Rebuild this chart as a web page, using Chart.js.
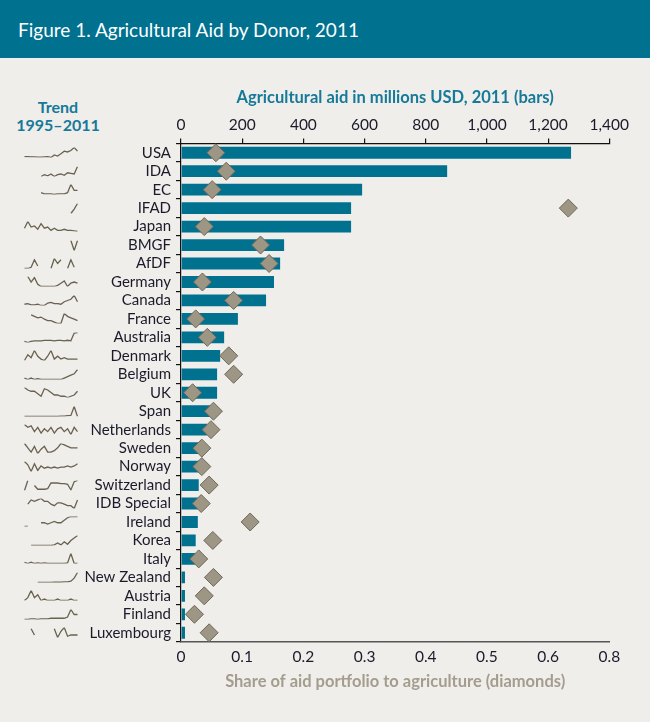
<!DOCTYPE html>
<html>
<head>
<meta charset="utf-8">
<script src="https://cdn.jsdelivr.net/npm/chart.js@4.4.1/dist/chart.umd.min.js"></script>
<style>
html,body{margin:0;padding:0;}
body{width:650px;height:722px;background:#EFEEEA;position:relative;overflow:hidden;font-family:Lato,"Noto Sans",sans-serif;}
#titlebar{position:absolute;left:0;top:0;width:650px;height:58px;background:#00718F;}
#title{position:absolute;left:18px;top:0;height:58px;line-height:60px;color:#fff;font-size:19px;white-space:nowrap;}
#trend{position:absolute;left:8px;width:100px;top:98px;text-align:center;color:#16799A;font-weight:bold;font-size:16px;line-height:18px;}
#main{position:absolute;left:0;top:0;}
.spark{position:absolute;}
</style>
</head>
<body>
<div id="titlebar"><div id="title">Figure 1. Agricultural Aid by Donor, 2011</div></div>
<div id="trend">Trend<br>1995–2011</div>
<canvas id="main" width="650" height="722"></canvas>
<div id="sparks"></div>
<script>
// ---------- DATA ----------
const donors = ['USA','IDA','EC','IFAD','Japan','BMGF','AfDF','Germany','Canada','France','Australia','Denmark','Belgium','UK','Span','Netherlands','Sweden','Norway','Switzerland','IDB Special','Ireland','Korea','Italy','New Zealand','Austria','Finland','Luxembourg'];
const aidMillions = [1275,870,592,556,556,337,324,304,278,186,141,128,118,118,95,85,60,60,58,55,55,48,46,13,13,13,13];
const shareToAgriculture = [0.057,0.074,0.051,0.633,0.038,0.130,0.144,0.035,0.086,0.024,0.043,0.078,0.086,0.019,0.053,0.049,0.034,0.034,0.046,0.033,0.113,0.052,0.029,0.053,0.038,0.022,0.046];
const aidTickLabels = ['0','200','400','600','800','1,000','1,200','1,400'];
const shareTickLabels = ['0','0.1','0.2','0.3','0.4','0.5','0.6','0.8'];
const trendYears = [1995,1996,1997,1998,1999,2000,2001,2002,2003,2004,2005,2006,2007,2008,2009,2010,2011];

const trendUSA = [1.7,1.7,1.6,1.6,1.3,1.3,1.6,1.7,1.0,3.3,2.3,4.3,6.7,6.0,7.3,10,6.7];
const trendIDA = [null,null,null,null,null,2,3.5,2.5,4,2,3.5,4,3,5,4.5,4,10];
const trendEC = [null,null,null,null,null,3,2,2,2,1.5,2,2,2,3,10,5,5];
const trendIFAD = [null,null,null,null,null,null,null,null,null,null,null,null,null,null,1,5,10];
const trendJapan = [4,10,5,6,3,8,4,5,2,4,2,2,3,2,2,1.5,1];
const trendBMGF = [null,null,null,null,null,null,null,null,null,null,null,null,null,null,10,1,10];
const trendAfDF = [1,1,2,8,3,null,null,null,1,9,5,8,null,1,8,2,null];
const trendGermany = [null,10,5,9,3,1,1,1,1,1,2,4,6,1,4,5,4];
const trendCanada = [3,3.5,2.5,2.5,3,2,2,4,4.5,3.5,3.5,3,5,6,7,10,5];
const trendFrance = [null,null,9,8,7,7.5,6,5,5,4,3,3,10,8,7,6,5];
const trendAustralia = [2,1,2,2.5,2.5,2.5,3,3,3,2.5,3,3,2.5,3,2.5,9.5,10];
const trendDenmark = [2,6,4,9,5,3,2,5,9,3,5,3,4,3,3,3,3];
const trendBelgium = [4,3,4,3,3.5,3,3,3,3,3,3,3,4,5,6,7,10];
const trendUK = [9,7,6,6,4,2,8,7,5,3,3,2,2,1,2,3,6];
const trendSpain = [1,1,1,1,1,1,1,1,1.2,1.2,1.2,1.4,1.4,1.8,2,10,1];
const trendNetherlands = [9,7,8,4,7,3,6,4,7,3,6,7,4,6,2,7,4];
const trendSweden = [9,6,3,7,2,5,7,3,3,4,6,9,8,7,6,6,6];
const trendNorway = [10,7,1,8,2,6,4,5,4,5,4,5,5,6,5,6,8];
const trendSwitzerland = [1,9,null,5,2,2,2,2.5,7,7,7,6.5,6.5,6,1.5,8,9];
const trendIDBSpecial = [null,4,7,6,7,8,6,6,4,3,5,5,4,3,3,1,7];
const trendIreland = [1,1,null,null,null,4,4,3,4,5,4,4,6,8,9,9,9];
const trendKorea = [null,null,1,1,1,1,1,1,1,1.5,3,1.5,4,2,5,7,9];
const trendItaly = [3,2,3,2,2.5,2,2.5,2,2,2,2,2,2,2.5,10,2,2];
const trendNewZealand = [null,null,null,null,1,1,1,1,1,1.2,1.2,1.2,1.5,1.5,2,4.5,9];
const trendAustria = [2,4,9,4,6,2,3,2,2,2,3,2,2,2,3,2,2];
const trendFinland = [2,2,2.5,2.5,2,2.5,2.5,2.5,3,3,3,3,3,4,10,6,6];
const trendLuxembourg = [null,null,8,3,null,null,null,null,null,8,1,6,9,2,3,3,3];

const trendSeries = [trendUSA,trendIDA,trendEC,trendIFAD,trendJapan,trendBMGF,trendAfDF,trendGermany,trendCanada,trendFrance,trendAustralia,trendDenmark,trendBelgium,trendUK,trendSpain,trendNetherlands,trendSweden,trendNorway,trendSwitzerland,trendIDBSpecial,trendIreland,trendKorea,trendItaly,trendNewZealand,trendAustria,trendFinland,trendLuxembourg];

// ---------- STYLE ----------
Chart.defaults.font.family = 'Lato, "Noto Sans", sans-serif';
Chart.defaults.color = '#1b1a2a';
const TEAL = '#00718F';
const AREA_TOP = 143.5, AREA_BOTTOM = 642;

const mainChart = new Chart(document.getElementById('main'), {
  type: 'bar',
  data: {
    labels: donors,
    datasets: [
      {
        type: 'line',
        label: 'Share of aid portfolio to agriculture',
        indexAxis: 'y',
        data: shareToAgriculture,
        xAxisID: 'x2',
        yAxisID: 'y',
        showLine: false,
        pointStyle: 'rectRot',
        pointRadius: 9,
        pointBackgroundColor: '#9E9684',
        pointBorderColor: '#6F6757',
        pointBorderWidth: 1,
        order: 0
      },
      {
        type: 'bar',
        label: 'Agricultural aid',
        data: aidMillions,
        xAxisID: 'x',
        yAxisID: 'y',
        backgroundColor: TEAL,
        borderWidth: 0,
        barPercentage: 0.64,
        categoryPercentage: 1.0,
        order: 1
      }
    ]
  },
  options: {
    indexAxis: 'y',
    responsive: false,
    animation: false,
    devicePixelRatio: 1,
    layout: { padding: { top: 84, right: 40.7, bottom: 20, left: 0 } },
    plugins: { legend: { display: false }, tooltip: { enabled: false } },
    scales: {
      y: {
        type: 'category',
        position: 'left',
        afterFit: s => { s.width = 181; },
        grid: { display: true, drawOnChartArea: false, offset: true, tickLength: 5, color: '#111', lineWidth: 1.2 },
        border: { color: '#111', width: 1.2 },
        ticks: { autoSkip: false, padding: 5, color: '#1b1a2a', font: { size: 15 } }
      },
      x: {
        type: 'linear',
        position: 'top',
        min: 0, max: 1400,
        afterFit: s => { s.height = AREA_TOP - 84; },
        grid: { display: true, drawOnChartArea: false, tickLength: 5, color: '#111', lineWidth: 1.2 },
        border: { color: '#111', width: 1.2 },
        ticks: { stepSize: 200, padding: 4, color: '#1b1a2a', font: { size: 15.5 }, callback: (v, i) => aidTickLabels[i] },
        title: { display: true, text: 'Agricultural aid in millions USD, 2011 (bars)', color: '#16799A', font: { size: 16.5, weight: 'bold' }, padding: { top: 4, bottom: 0 } }
      },
      x2: {
        type: 'linear',
        position: 'bottom',
        min: 0, max: 0.7,
        afterFit: s => { s.height = 60; },
        grid: { display: true, drawOnChartArea: false, drawTicks: false },
        border: { color: '#555', width: 1.5 },
        ticks: { stepSize: 0.1, padding: 6, color: '#1b1a2a', font: { size: 15.5 }, callback: (v, i) => shareTickLabels[i] },
        title: { display: true, text: 'Share of aid portfolio to agriculture (diamonds)', color: '#A49C8E', font: { size: 16.5, weight: 'bold' }, padding: { top: 0, bottom: 10 } }
      }
    }
  }
});

// ---------- SPARKLINES ----------
const rowH = (AREA_BOTTOM - AREA_TOP) / donors.length;
const sparks = document.getElementById('sparks');
trendSeries.forEach((series, i) => {
  const c = document.createElement('canvas');
  c.className = 'spark';
  c.width = 56; c.height = 13;
  c.style.left = '22.5px';
  c.style.top = (AREA_TOP + rowH * (i + 0.5) - 6.5) + 'px';
  sparks.appendChild(c);
  const vals = series.filter(v => v !== null);
  new Chart(c, {
    type: 'line',
    data: { labels: trendYears, datasets: [{ data: series, borderColor: '#6B6150', borderWidth: 1.3, pointRadius: 0, tension: 0, spanGaps: false, fill: false }] },
    options: {
      responsive: false, animation: false, devicePixelRatio: 1,
      layout: { padding: 1.5 },
      plugins: { legend: { display: false }, tooltip: { enabled: false } },
      scales: {
        x: { display: false },
        y: { display: false, min: Math.min(...vals), max: Math.max(...vals) }
      }
    }
  });
});
</script>
</body>
</html>
